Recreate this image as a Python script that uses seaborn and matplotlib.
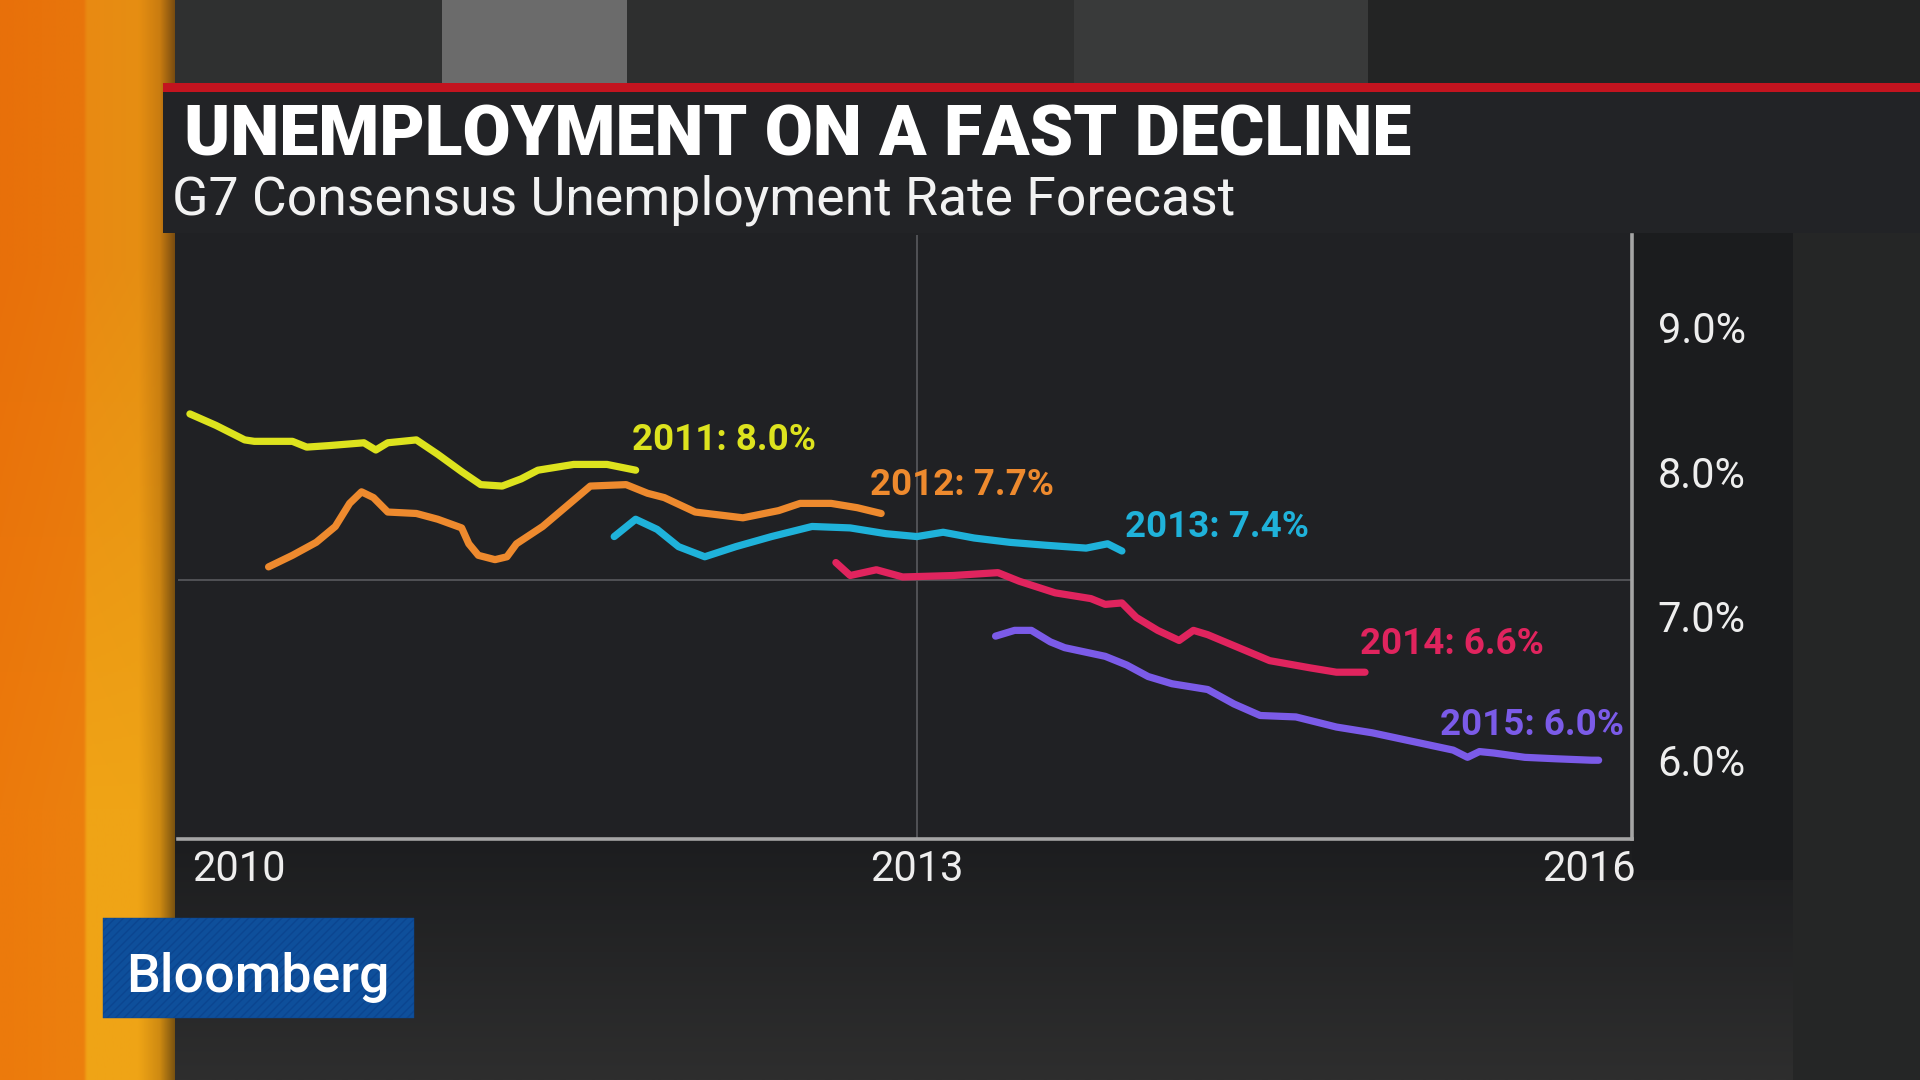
import numpy as np
import pandas as pd
import matplotlib
matplotlib.use("Agg")
import matplotlib.pyplot as plt
import matplotlib.transforms as mtransforms
import seaborn as sns
from matplotlib.patches import Rectangle
from matplotlib.colors import to_rgb

# ---------------- data ----------------
forecast_years = ["2011", "2012", "2013", "2014", "2015"]
final_labels = ["8.0%", "7.7%", "7.4%", "6.6%", "6.0%"]

dates_2011 = [2009.95, 2010.06, 2010.18, 2010.22, 2010.38, 2010.44, 2010.53, 2010.68,
              2010.73, 2010.78, 2010.90, 2010.99, 2011.09, 2011.17, 2011.26, 2011.34,
              2011.41, 2011.56, 2011.70, 2011.82]
rate_2011 = [8.40, 8.32, 8.22, 8.21, 8.21, 8.17, 8.18, 8.20, 8.15, 8.20, 8.22, 8.12,
             8.00, 7.91, 7.90, 7.95, 8.01, 8.05, 8.05, 8.01]

dates_2012 = [2010.28, 2010.38, 2010.48, 2010.56, 2010.62, 2010.67, 2010.72, 2010.78,
              2010.90, 2010.99, 2011.09, 2011.12, 2011.16, 2011.23, 2011.28, 2011.32,
              2011.43, 2011.53, 2011.63, 2011.78, 2011.87, 2011.94, 2012.07, 2012.27,
              2012.42, 2012.51, 2012.64, 2012.75, 2012.85]
rate_2012 = [7.34, 7.42, 7.51, 7.62, 7.78, 7.86, 7.82, 7.72, 7.71, 7.67, 7.61, 7.50,
             7.42, 7.39, 7.41, 7.50, 7.62, 7.76, 7.90, 7.91, 7.85, 7.82, 7.72, 7.68,
             7.73, 7.78, 7.78, 7.75, 7.71]

dates_2013 = [2011.73, 2011.82, 2011.91, 2012.00, 2012.11, 2012.24, 2012.39, 2012.56,
              2012.72, 2012.87, 2013.00, 2013.11, 2013.24, 2013.39, 2013.54, 2013.71,
              2013.80, 2013.86]
rate_2013 = [7.55, 7.67, 7.60, 7.48, 7.41, 7.48, 7.55, 7.62, 7.61, 7.57, 7.55, 7.58,
             7.54, 7.51, 7.49, 7.47, 7.50, 7.45]

dates_2014 = [2012.66, 2012.72, 2012.83, 2012.94, 2013.15, 2013.34, 2013.43, 2013.58,
              2013.73, 2013.79, 2013.86, 2013.92, 2014.01, 2014.10, 2014.16, 2014.22,
              2014.35, 2014.48, 2014.65, 2014.76, 2014.88]
rate_2014 = [7.37, 7.28, 7.32, 7.27, 7.28, 7.30, 7.24, 7.16, 7.12, 7.08, 7.09, 6.99,
             6.90, 6.83, 6.90, 6.87, 6.78, 6.69, 6.64, 6.61, 6.61]

dates_2015 = [2013.33, 2013.41, 2013.48, 2013.56, 2013.62, 2013.79, 2013.88, 2013.97,
              2014.07, 2014.22, 2014.33, 2014.44, 2014.59, 2014.76, 2014.91, 2015.08,
              2015.25, 2015.31, 2015.36, 2015.42, 2015.55, 2015.68, 2015.83, 2015.86]
rate_2015 = [6.86, 6.90, 6.90, 6.82, 6.78, 6.72, 6.66, 6.58, 6.53, 6.49, 6.39, 6.31,
             6.30, 6.23, 6.19, 6.13, 6.07, 6.02, 6.06, 6.05, 6.02, 6.01, 6.00, 6.00]

x_ticks = [2010, 2013, 2016]
x_tick_labels = ["2010", "2013", "2016"]
y_ticks = [9, 8, 7, 6]
y_tick_labels = ["9.0%", "8.0%", "7.0%", "6.0%"]
grid_year = 2013
grid_rate = 7.25

title = "UNEMPLOYMENT ON A FAST DECLINE"
subtitle = "G7 Consensus Unemployment Rate Forecast"
brand = "Bloomberg"

# ---------------- styles ----------------
line_colors = ["#DDE31E", "#EE8A2E", "#1FB2DA", "#E0245E", "#7B5BE8"]
label_offsets = [(-4, 20, "left"), (-11, 18, "left"), (3, 14, "left"),
                 (-5, 18, "left"), (25, 25, "right")]

series_dates = [dates_2011, dates_2012, dates_2013, dates_2014, dates_2015]
series_rates = [rate_2011, rate_2012, rate_2013, rate_2014, rate_2015]
df = pd.concat([pd.DataFrame({"date": d, "rate": r, "forecast": f})
                for d, r, f in zip(series_dates, series_rates, forecast_years)],
               ignore_index=True)

sns.set_style("dark", {"axes.facecolor": "#202124"})
plt.rcParams["font.family"] = ["Roboto", "DejaVu Sans"]

W, H = 1920, 1080
fig = plt.figure(figsize=(19.2, 10.8), dpi=100)
fig.patch.set_facecolor("#2a2b2b")

# ---------------- broadcast background (pixel coordinates) ----------------
bg = fig.add_axes([0, 0, 1, 1], zorder=0)
bg.axis("off")


def rect(x0, y0, x1, y1, color, **kw):
    bg.add_patch(Rectangle((x0, y0), x1 - x0, y1 - y0, facecolor=color,
                           edgecolor=kw.pop("edgecolor", "none"), **kw))


def hgrad(x0, y0, x1, y1, stops_top, stops_bottom):
    xs = np.linspace(0, 1, 200)
    rows = []
    for stops in (stops_top, stops_bottom):
        pos = [s[0] for s in stops]
        cols = np.array([to_rgb(s[1]) for s in stops])
        rows.append(np.stack([np.interp(xs, pos, cols[:, c]) for c in range(3)], axis=-1))
    img = np.stack(rows, axis=0)
    bg.imshow(img, extent=(x0, x1, y1, y0), aspect="auto", interpolation="bilinear", zorder=0)


def vgrad(x0, y0, x1, y1, c_top, c_bot):
    ys = np.linspace(0, 1, 100)[:, None]
    a, b = np.array(to_rgb(c_top)), np.array(to_rgb(c_bot))
    img = (a[None, None, :] * (1 - ys[..., None]) + b[None, None, :] * ys[..., None])
    img = np.repeat(img, 2, axis=1)
    bg.imshow(img, extent=(x0, x1, y1, y0), aspect="auto", interpolation="bilinear", zorder=0)


# orange side bands
hgrad(0, 0, 178, H,
      [(0, "#E8700A"), (0.47, "#E8760C"), (0.49, "#E98A12"), (0.78, "#E68E12"),
       (0.9, "#C97C10"), (1.0, "#6a4410")],
      [(0, "#EC7A0C"), (0.47, "#EC800E"), (0.49, "#F0A416"), (0.78, "#EFA416"),
       (0.9, "#CE8A12"), (1.0, "#6a4810")])
# top strip columns
rect(175, 0, 442, 84, "#2f3030")
rect(442, 0, 627, 84, "#6b6b6b")
rect(627, 0, 1074, 84, "#2e2f2f")
rect(1074, 0, 1368, 84, "#393a3a")
rect(1368, 0, W, 84, "#232424")
# right side
rect(1793, 84, W, H, "#252626")
# lower region gradient
vgrad(175, 839, 1793, H, "#1c1d1f", "#2e2e2e")
# label panel
rect(1632, 233, 1793, 880, "#1b1c1e")
# title box and red rule
rect(163, 83, W, 233, "#222326")
rect(163, 83, W, 92, "#C3141F")
# plot panel
rect(175, 233, 1632, 839, "#202124")
# logo
rect(103, 918, 414, 1018, "#0E4F9B", edgecolor="#0b4590", hatch="////", linewidth=0.3)
bg.set_xlim(0, W)
bg.set_ylim(H, 0)

bg.text(184, 155, title, fontsize=50.2, fontweight="black", color="white",
        va="baseline", ha="left")
bg.text(172, 214, subtitle, fontsize=38.6, fontweight="normal", color="#F2F2F2",
        va="baseline", ha="left")
bg.text(126, 992, brand, fontsize=38.6, fontweight="medium", color="white",
        va="baseline", ha="left")

# ---------------- chart ----------------
ax = fig.add_axes([178 / W, 1 - 839 / H, (1632 - 178) / W, (839 - 235) / H], zorder=2)
ax.set_facecolor("#202124")

palette = dict(zip(forecast_years, line_colors))
sns.lineplot(data=df, x="date", y="rate", hue="forecast", palette=palette,
             estimator=None, sort=False, linewidth=5.2, legend=False, ax=ax, zorder=3)
for ln in ax.lines:
    ln.set_solid_capstyle("round")
    ln.set_solid_joinstyle("round")

ax.axvline(grid_year, color="#55565a", linewidth=1.3, zorder=1)
ax.axhline(grid_rate, color="#55565a", linewidth=1.3, zorder=1)

ax.set_xlim(2009.9, 2016.0)
ax.set_ylim(5.454, 9.64)

ax.set_xticks(x_ticks, x_tick_labels)
ax.yaxis.tick_right()
ax.set_yticks(y_ticks, y_tick_labels)
ax.tick_params(axis="x", length=0, pad=7, labelsize=30, labelcolor="#EEEEEE")
ax.tick_params(axis="y", length=0, pad=18.5, labelsize=30, labelcolor="#EEEEEE")
xl = ax.get_xticklabels()
xl[0].set_ha("left")
xl[0].set_transform(xl[0].get_transform() +
                    mtransforms.ScaledTranslation(-0.10, 0, fig.dpi_scale_trans))
xl[-1].set_ha("right")
xl[-1].set_transform(xl[-1].get_transform() +
                     mtransforms.ScaledTranslation(0.04, 0, fig.dpi_scale_trans))
ax.set_xlabel("")
ax.set_ylabel("")
ax.grid(False)

for side in ("left", "top"):
    ax.spines[side].set_visible(False)
for side in ("bottom", "right"):
    ax.spines[side].set_visible(True)
    ax.spines[side].set_color("#A5A5A5")
    ax.spines[side].set_linewidth(2.6)
    ax.spines[side].set_zorder(4)

for d, r, f, lab, col, (dx, dy, ha) in zip(series_dates, series_rates, forecast_years,
                                           final_labels, line_colors, label_offsets):
    ax.annotate(f"{f}: {lab}", xy=(d[-1], r[-1]), xytext=(dx, dy),
                textcoords="offset pixels", ha=ha, va="baseline",
                fontsize=26.5, fontweight="bold", color=col, zorder=5,
                annotation_clip=False)

fig.savefig("out.png", dpi=100, facecolor=fig.get_facecolor())
